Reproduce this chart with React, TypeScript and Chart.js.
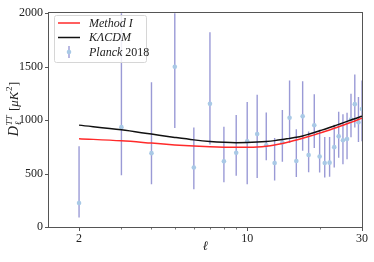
import React, { useEffect, useRef } from "react";
import { Chart, registerables } from "chart.js";

Chart.register(...registerables);

const ell = [2, 3, 4, 5, 6, 7, 8, 9, 10, 11, 12, 13, 14, 15, 16, 17, 18, 19, 20, 21, 22, 23, 24, 25, 26, 27, 28, 29, 30];
const planck = [224, 934, 691, 1499, 556, 1152, 614, 694, 802, 870, 765, 599, 790, 1022, 617, 1035, 673, 952, 660, 599, 602, 747, 848, 811, 823, 1005, 1149, 980, 1103];
const planckUpper = [756, 2600, 1355, 2400, 931, 1822, 937, 1048, 1170, 1238, 1072, 832, 1094, 1370, 915, 1364, 894, 1241, 909, 842, 842, 956, 1078, 1054, 1069, 1247, 1426, 1217, 1370];
const planckLower = [89, 485, 399, 925, 353, 771, 418, 479, 399, 458, 624, 436, 611, 786, 467, 713, 513, 740, 510, 464, 470, 556, 648, 587, 633, 839, 931, 796, 802];

const methodI = [826, 806, 785, 768, 757, 750, 746, 745, 746, 749, 756, 767, 781, 797, 814, 830, 846, 862, 878, 893, 908, 923, 938, 952, 966, 979, 992, 1005, 1018];
const klcdm = [953, 909, 869, 838, 815, 800, 792, 789, 790, 794, 800, 808, 818, 829, 839, 852, 868, 884, 900, 915, 930, 945, 960, 974, 988, 1001, 1013, 1025, 1037];

const xMajor = [2, 10, 30];
const xMinor = [3, 4, 5, 6, 7, 8, 9, 20];
const yTicks = [0, 500, 1000, 1500, 2000];

const SERIF = "'Liberation Serif', 'DejaVu Serif', serif";
const BAR_COLOR = "rgba(120,120,200,0.75)";
const PT_COLOR = "#a9c9e6";

const customPlugin = {
  id: "custom",
  beforeDatasetsDraw(chart: any) {
    const { ctx, chartArea, scales } = chart;
    const xs = scales.x, ys = scales.y;
    ctx.save();
    ctx.beginPath();
    ctx.rect(chartArea.left, chartArea.top, chartArea.right - chartArea.left, chartArea.bottom - chartArea.top);
    ctx.clip();
    ctx.strokeStyle = BAR_COLOR;
    ctx.lineWidth = 1.4;
    for (let i = 0; i < ell.length; i++) {
      const x = xs.getPixelForValue(ell[i]);
      ctx.beginPath();
      ctx.moveTo(x, ys.getPixelForValue(planckLower[i]));
      ctx.lineTo(x, ys.getPixelForValue(planckUpper[i]));
      ctx.stroke();
    }
    ctx.restore();
  },
  afterDraw(chart: any) {
    const { ctx, chartArea, scales } = chart;
    const xs = scales.x, ys = scales.y;
    const { left, right, top, bottom } = chartArea;
    ctx.save();
    // frame
    ctx.strokeStyle = "#555";
    ctx.lineWidth = 1;
    ctx.strokeRect(Math.round(left) - 0.5, Math.round(top) - 0.5, Math.round(right - left) + 1, Math.round(bottom - top) + 1);
    // ticks
    ctx.beginPath();
    for (const v of xMajor) {
      const x = Math.round(xs.getPixelForValue(v)) + 0.5;
      ctx.moveTo(x, bottom + 0.5);
      ctx.lineTo(x, bottom + 4);
    }
    for (const v of yTicks) {
      const y = Math.round(ys.getPixelForValue(v)) + 0.5;
      ctx.moveTo(left - 0.5, y);
      ctx.lineTo(left - 4, y);
    }
    ctx.stroke();
    ctx.beginPath();
    ctx.lineWidth = 0.8;
    for (const v of xMinor) {
      const x = Math.round(xs.getPixelForValue(v)) + 0.5;
      ctx.moveTo(x, bottom + 0.5);
      ctx.lineTo(x, bottom + 2.5);
    }
    ctx.stroke();

    // legend
    ctx.fillStyle = "rgba(255,255,255,0.85)";
    ctx.strokeStyle = "#d6d6d6";
    ctx.lineWidth = 1;
    ctx.beginPath();
    (ctx as any).roundRect(54.5, 15.5, 92, 47, 2);
    ctx.fill();
    ctx.stroke();
    const rows = [23, 37.5, 52];
    ctx.lineWidth = 1.5;
    ctx.strokeStyle = "#ff2a2a";
    ctx.beginPath(); ctx.moveTo(58, rows[0]); ctx.lineTo(80, rows[0]); ctx.stroke();
    ctx.strokeStyle = "#111";
    ctx.beginPath(); ctx.moveTo(58, rows[1]); ctx.lineTo(80, rows[1]); ctx.stroke();
    ctx.strokeStyle = BAR_COLOR;
    ctx.lineWidth = 1.4;
    ctx.beginPath(); ctx.moveTo(69, rows[2] - 6); ctx.lineTo(69, rows[2] + 6); ctx.stroke();
    ctx.fillStyle = PT_COLOR;
    ctx.beginPath(); ctx.arc(69, rows[2], 2.3, 0, Math.PI * 2); ctx.fill();

    ctx.fillStyle = "#222";
    ctx.textBaseline = "middle";
    ctx.textAlign = "left";
    ctx.font = `italic 12px ${SERIF}`;
    ctx.fillText("Method I", 89, rows[0] + 0.5);
    ctx.fillText("KΛCDM", 89, rows[1] + 0.5);
    ctx.fillText("Planck", 89, rows[2] + 0.5);
    const pw = ctx.measureText("Planck").width;
    ctx.font = `12px ${SERIF}`;
    ctx.fillText(" 2018", 89 + pw, rows[2] + 0.5);

    // x label
    ctx.font = `italic 13px ${SERIF}`;
    ctx.textAlign = "center";
    ctx.fillText("ℓ", (left + right) / 2, 247);

    // y label
    ctx.save();
    ctx.translate(14, 109);
    ctx.rotate(-Math.PI / 2);
    ctx.textAlign = "left";
    ctx.textBaseline = "alphabetic";
    const parts: { t: string; f: string; dy: number; adv: boolean; gap: number }[] = [
      { t: "D", f: `italic 14px ${SERIF}`, dy: 0, adv: true, gap: 1 },
      { t: "ℓ", f: `italic 9px ${SERIF}`, dy: 3, adv: false, gap: 0 },
      { t: "TT", f: `italic 9px ${SERIF}`, dy: -6, adv: true, gap: 1 },
      { t: " [", f: `13px ${SERIF}`, dy: 0, adv: true, gap: 0 },
      { t: "μK", f: `italic 13px ${SERIF}`, dy: 0, adv: true, gap: 0.5 },
      { t: "2", f: `9px ${SERIF}`, dy: -6, adv: true, gap: 0.5 },
      { t: "]", f: `13px ${SERIF}`, dy: 0, adv: true, gap: 0 },
    ];
    let total = 0;
    for (const p of parts) {
      ctx.font = p.f;
      if (p.adv) total += ctx.measureText(p.t).width + p.gap;
    }
    let cx = -total / 2;
    for (const p of parts) {
      ctx.font = p.f;
      ctx.fillText(p.t, cx, 4 + p.dy);
      if (p.adv) cx += ctx.measureText(p.t).width + p.gap;
    }
    ctx.restore();
    ctx.restore();
  },
};

export default function App() {
  const ref = useRef<HTMLCanvasElement | null>(null);
  useEffect(() => {
    document.body.style.margin = "0";
    const canvas = ref.current!;
    const chart = new Chart(canvas, {
      type: "line",
      data: {
        datasets: [
          {
            label: "Method I",
            data: ell.map((x, i) => ({ x, y: methodI[i] })),
            borderColor: "#ff2a2a",
            borderWidth: 1.5,
            pointRadius: 0,
            cubicInterpolationMode: "monotone",
            fill: false,
            order: 2,
          },
          {
            label: "KΛCDM",
            data: ell.map((x, i) => ({ x, y: klcdm[i] })),
            borderColor: "#111111",
            borderWidth: 1.5,
            pointRadius: 0,
            cubicInterpolationMode: "monotone",
            fill: false,
            order: 1,
          },
          {
            label: "Planck 2018",
            data: ell.map((x, i) => ({ x, y: planck[i] })),
            showLine: false,
            pointRadius: 2.3,
            pointBackgroundColor: PT_COLOR,
            pointBorderWidth: 0,
            borderColor: PT_COLOR,
            order: 3,
          },
        ],
      },
      options: {
        responsive: false,
        animation: false,
        events: [],
        layout: { padding: { top: 10, right: 12, left: 0, bottom: 0 } },
        plugins: { legend: { display: false }, tooltip: { enabled: false }, title: { display: false } },
        scales: {
          x: {
            type: "logarithmic",
            min: 1.5,
            max: 30,
            afterBuildTicks: (scale: any) => {
              scale.ticks = [...xMajor, ...xMinor].sort((a, b) => a - b).map((v) => ({ value: v }));
            },
            afterFit: (scale: any) => { scale.height = 35; },
            grid: { display: false, drawTicks: false },
            border: { display: false },
            ticks: {
              autoSkip: false,
              maxRotation: 0,
              padding: 5,
              color: "#222",
              font: { family: SERIF, size: 12 },
              callback: (v: any) => (xMajor.includes(Number(v)) ? String(v) : ""),
            },
          },
          y: {
            type: "linear",
            min: 0,
            max: 2000,
            afterBuildTicks: (scale: any) => {
              scale.ticks = yTicks.map((v) => ({ value: v }));
            },
            afterFit: (scale: any) => { scale.width = 49; },
            grid: { display: false, drawTicks: false },
            border: { display: false },
            ticks: {
              padding: 6,
              color: "#222",
              font: { family: SERIF, size: 12 },
              callback: (v: any) => String(v),
            },
          },
        },
      },
      plugins: [customPlugin],
    } as any);
    return () => chart.destroy();
  }, []);
  return <canvas ref={ref} width={374} height={262} style={{ display: "block" }} />;
}
